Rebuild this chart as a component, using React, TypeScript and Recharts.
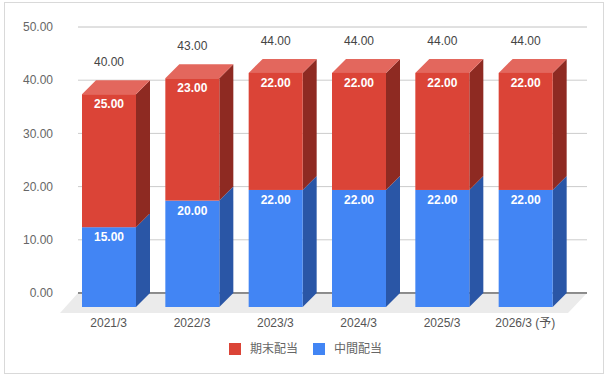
import {
  Bar,
  BarChart,
  CartesianGrid,
  LabelList,
  Legend,
  ReferenceLine,
  XAxis,
  YAxis,
} from 'recharts';

// 配当の推移 (円). 下段が中間、上段が期末。
const categories = ['2021/3', '2022/3', '2023/3', '2024/3', '2025/3', '2026/3 (予)'];
const interimDividend = [15, 20, 22, 22, 22, 22]; // 中間配当
const finalDividend = [25, 23, 22, 22, 22, 22]; // 期末配当
const majorTicks = [0, 10, 20, 30, 40, 50];
const minorTicks = [
  0, 3.333, 6.667, 10, 13.333, 16.667, 20, 23.333, 26.667, 30, 33.333, 36.667, 40, 43.333,
  46.667, 50,
];

const INTERIM_NAME = '中間配当';
const FINAL_NAME = '期末配当';

const DEPTH = 14;
const RED = '#db4437';
const RED_TOP = '#e3675d';
const RED_SIDE = '#8e2a22';
const BLUE = '#4285f4';
const BLUE_TOP = '#6d9ff6';
const BLUE_SIDE = '#2a56a6';
const FONT = 'Arial, "Liberation Sans", "Noto Sans CJK JP", sans-serif';

const data = categories.map((name, i) => ({
  name,
  interim: interimDividend[i],
  final: finalDividend[i],
  total: interimDividend[i]! + finalDividend[i]!,
}));

// Recharts gives the rect at the back wall; the front face sits DEPTH px down-left of it.
function bar3d(front: string, top: string, side: string, withTop: boolean) {
  return (props: any) => {
    const { x, y, width: w, height: h } = props;
    if (w == null || h == null || h <= 0) return <g />;
    const d = DEPTH;
    return (
      <g>
        <polygon
          points={`${x + w - d},${y + d} ${x + w},${y} ${x + w},${y + h} ${x + w - d},${y + h + d}`}
          fill={side}
        />
        {withTop && (
          <polygon points={`${x - d},${y + d} ${x},${y} ${x + w},${y} ${x + w - d},${y + d}`} fill={top} />
        )}
        <rect x={x - d} y={y + d} width={w} height={h} fill={front} />
      </g>
    );
  };
}

const segmentLabel = (props: any) => {
  const { x, y, width, value } = props;
  return (
    <text
      x={x - DEPTH + width / 2}
      y={y + DEPTH + 14}
      textAnchor="middle"
      fill="#fff"
      fontSize={12}
      fontWeight="bold"
    >
      {Number(value).toFixed(2)}
    </text>
  );
};

const totalLabel = (props: any) => {
  const { x, y, width, value } = props;
  return (
    <text x={x - DEPTH + width / 2} y={y - 14} textAnchor="middle" fill="#444" fontSize={12}>
      {Number(value).toFixed(2)}
    </text>
  );
};

const floor = (props: any) => {
  const { x1, y1, x2 } = props;
  return (
    <g>
      <polygon
        points={`${x1},${y1} ${x2},${y1} ${x2 - 19},${y1 + 20} ${x1 - 18},${y1 + 20}`}
        fill="#ebebeb"
      />
      <line x1={x1} y1={y1} x2={x2} y2={y1} stroke="#333" strokeWidth={1} />
    </g>
  );
};

const xTick = (props: any) => {
  const { x, y, payload } = props;
  return (
    <text x={x - DEPTH} y={y + 34} textAnchor="middle" fill="#555" fontSize={12}>
      {payload.value}
    </text>
  );
};

const legendItems = [
  { name: FINAL_NAME, color: RED },
  { name: INTERIM_NAME, color: BLUE },
];

const legendContent = () => (
  <div
    style={{
      height: 30,
      boxSizing: 'border-box',
      paddingTop: 5,
      paddingLeft: 2,
      display: 'flex',
      justifyContent: 'center',
      alignItems: 'flex-start',
      gap: 15,
    }}
  >
    {legendItems.map((it) => (
      <div key={it.name} style={{ display: 'flex', alignItems: 'center', height: 12 }}>
        <span style={{ width: 12, height: 12, background: it.color, marginRight: 9 }} />
        <span style={{ fontSize: 12, color: '#666', lineHeight: '12px' }}>{it.name}</span>
      </div>
    ))}
  </div>
);

export default function App() {
  return (
    <div style={{ position: 'absolute', left: 0, top: 0, width: 609, height: 378, background: '#fff', fontFamily: FONT }}>
      <div
        style={{
          position: 'absolute',
          left: 4,
          top: 2,
          width: 600,
          height: 372,
          boxSizing: 'border-box',
          border: '1px solid #d9d9d9',
        }}
      />
      <BarChart
        width={609}
        height={378}
        data={data}
        margin={{ top: 27, right: 22, bottom: 10, left: 0 }}
        barSize={54}
      >
        <CartesianGrid yAxisId="minor" vertical={false} stroke="#ebebeb" />
        <CartesianGrid vertical={false} stroke="#cccccc" />
        <XAxis
          dataKey="name"
          height={45}
          interval={0}
          tickLine={false}
          axisLine={false}
          tickSize={0}
          tickMargin={0}
          padding={{ left: 3, right: 6 }}
          tick={xTick}
        />
        <YAxis
          width={78}
          domain={[0, 50]}
          ticks={majorTicks}
          tickLine={false}
          axisLine={false}
          tickSize={0}
          tickMargin={25}
          tick={{ fill: '#666', fontSize: 12 }}
          tickFormatter={(v: number) => v.toFixed(2)}
        />
        <YAxis yAxisId="minor" hide domain={[0, 50]} ticks={minorTicks} />
        <ReferenceLine y={0} shape={floor} zIndex={-50} />
        <Legend verticalAlign="bottom" wrapperStyle={{ left: 0, width: 609 }} content={legendContent} />
        <Bar
          dataKey="interim"
          name={INTERIM_NAME}
          stackId="a"
          fill={BLUE}
          shape={bar3d(BLUE, BLUE_TOP, BLUE_SIDE, false)}
          isAnimationActive={false}
        >
          <LabelList dataKey="interim" content={segmentLabel} />
        </Bar>
        <Bar
          dataKey="final"
          name={FINAL_NAME}
          stackId="a"
          fill={RED}
          shape={bar3d(RED, RED_TOP, RED_SIDE, true)}
          isAnimationActive={false}
        >
          <LabelList dataKey="final" content={segmentLabel} />
          <LabelList dataKey="total" content={totalLabel} />
        </Bar>
      </BarChart>
    </div>
  );
}
